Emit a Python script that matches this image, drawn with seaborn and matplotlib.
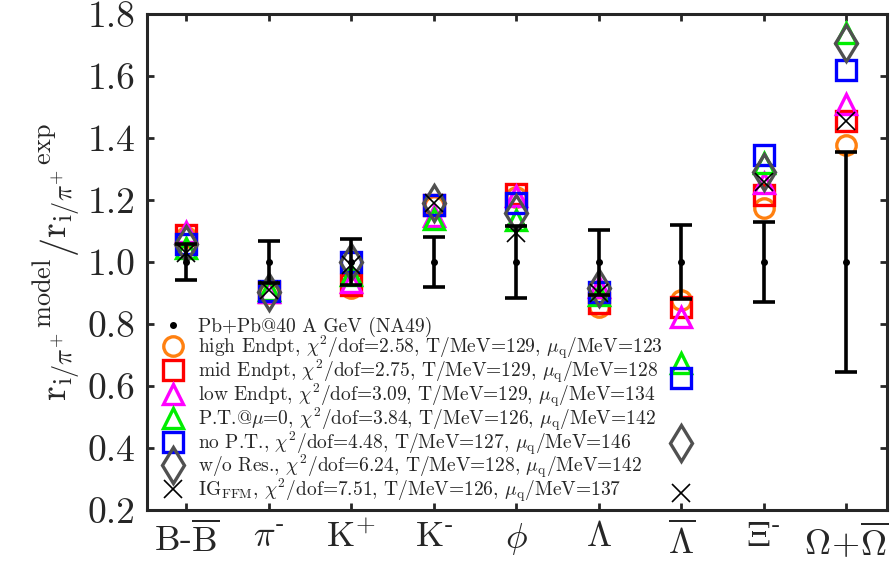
import numpy as np
import pandas as pd
import matplotlib
matplotlib.use("Agg")
import matplotlib.pyplot as plt
from matplotlib.lines import Line2D
import seaborn as sns

sns.set_style("ticks")
plt.rcParams['font.family'] = ['cmr10', 'DejaVu Serif']
plt.rcParams['mathtext.fontset'] = 'cm'
plt.rcParams['axes.formatter.use_mathtext'] = True

# categories (x axis)
categories = [r'B-$\overline{\mathrm{B}}$', r'$\pi^{\text{-}}$', r'K$^{+}$', r'K$^{\text{-}}$', r'$\phi$',
              r'$\Lambda$', r'$\overline{\Lambda}$', r'$\Xi^{\text{-}}$', r'$\Omega\!+\!\overline{\Omega}$']

# experiment (Pb+Pb@40 A GeV, NA49), normalised to 1
exp_vals = [1.0, 1.0, 1.0, 1.0, 1.0, 1.0, 1.0, 1.0, 1.0]
exp_err = [0.058, 0.068, 0.075, 0.08, 0.115, 0.105, 0.12, 0.13, 0.355]

# model / exp ratios
high_endpt = [1.08, 0.90, 0.915, 1.18, 1.21, 0.855, 0.877, 1.175, 1.377]
mid_endpt = [1.087, 0.905, 0.925, 1.185, 1.22, 0.868, 0.855, 1.216, 1.455]
low_endpt = [1.097, 0.905, 0.935, 1.15, 1.215, 0.92, 0.823, 1.255, 1.51]
pt_mu0 = [1.045, 0.91, 0.96, 1.14, 1.135, 0.895, 0.674, 1.32, 1.74]
no_pt = [1.06, 0.907, 1.0, 1.185, 1.19, 0.903, 0.626, 1.345, 1.619]
wo_res = [1.06, 0.905, 1.0, 1.19, 1.16, 0.915, 0.416, 1.29, 1.706]
ig_ffm = [1.03, 0.91, 0.99, 1.19, 1.095, 0.90, 0.255, 1.258, 1.455]

exp_label = 'Pb+Pb@40 A GeV (NA49)'
model_labels = [
    r'high Endpt, $\chi^2$/dof=2.58, T/MeV=129, $\mu_\mathrm{q}$/MeV=123',
    r'mid Endpt, $\chi^2$/dof=2.75, T/MeV=129, $\mu_\mathrm{q}$/MeV=128',
    r'low Endpt, $\chi^2$/dof=3.09, T/MeV=129, $\mu_\mathrm{q}$/MeV=134',
    r'P.T.@$\mu$=0, $\chi^2$/dof=3.84, T/MeV=126, $\mu_\mathrm{q}$/MeV=142',
    r'no P.T., $\chi^2$/dof=4.48, T/MeV=127, $\mu_\mathrm{q}$/MeV=146',
    r'w/o Res., $\chi^2$/dof=6.24, T/MeV=128, $\mu_\mathrm{q}$/MeV=142',
    r'IG$_\mathrm{FFM}$, $\chi^2$/dof=7.51, T/MeV=126, $\mu_\mathrm{q}$/MeV=137',
]
model_series = [high_endpt, mid_endpt, low_endpt, pt_mu0, no_pt, wo_res, ig_ffm]

# styles
colors = ['#ff8010', '#ff0000', '#ff00ff', '#00ee00', '#0000ff', '#505050', '#000000']
markers = ['o', 's', '^', '^', 's', 'd', 'x']
msizes = [14, 14, 15, 15, 14, 18, 13]
mews = [2.4, 2.4, 2.4, 2.4, 2.4, 2.4, 1.2]

pos = np.arange(1, len(categories) + 1)
df = pd.concat([pd.DataFrame({'pos': pos, 'value': v, 'model': lab})
                for v, lab in zip(model_series, model_labels)], ignore_index=True)

fig = plt.figure(figsize=(8.9, 5.68), dpi=100)
ax = fig.add_axes([0.165, 0.102, 0.832, 0.873])

handles = [Line2D([], [], marker='o', color='k', ms=4, linestyle='')]
for lab, c, m, s, w in zip(model_labels, colors, markers, msizes, mews):
    sub = df[df['model'] == lab]
    sns.lineplot(data=sub, x='pos', y='value', ax=ax, estimator=None, sort=False,
                 linestyle='', marker=m, markersize=s, markerfacecolor='none',
                 markeredgecolor=c, markeredgewidth=w, color=c)
    handles.append(Line2D([], [], marker=m, ms=s, mfc='none', mec=c, mew=w, linestyle=''))

ax.errorbar(pos, exp_vals, yerr=exp_err, fmt='o', color='k', ms=4,
            elinewidth=2.6, capsize=8, capthick=2.6, zorder=5)

ax.set_xlim(0.52, 9.5)
ax.set_ylim(0.2, 1.8)
ax.set_xticks(pos)
ax.set_xticklabels(categories, fontsize=26)
ax.set_yticks(np.arange(0.2, 1.81, 0.2))
ax.set_yticklabels(['%.1f' % t for t in np.arange(0.2, 1.81, 0.2)], fontsize=27)
ax.set_xlabel('')
ax.set_ylabel(r'$\mathrm{r}_{\mathrm{i}/\pi^{+}}{}^{\mathrm{model}}\left/\mathrm{r}_{\mathrm{i}/\pi^{+}}{}^{\mathrm{exp}}\right.$',
              fontsize=27, labelpad=4)
ax.tick_params(direction='in', top=True, right=True, length=5, width=2, pad=8)
for sp in ax.spines.values():
    sp.set_linewidth(2.2)

ax.legend(handles, [exp_label] + model_labels, loc='lower left',
          bbox_to_anchor=(0.0, -0.012), frameon=False, fontsize=14,
          handletextpad=0.55, labelspacing=-0.2, handlelength=1.5, borderaxespad=0.2)

fig.savefig('out.png', dpi=100)
